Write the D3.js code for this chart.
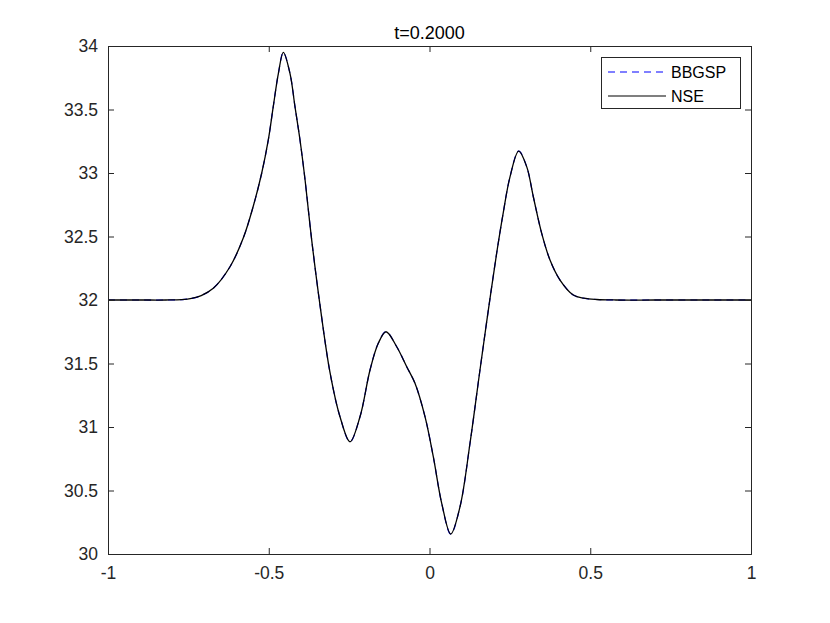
<!DOCTYPE html>
<html>
<head>
<meta charset="utf-8">
<script src="https://cdn.jsdelivr.net/npm/d3@7"></script>
<style>
body{margin:0;background:#fff;}
svg{display:block;font-family:"Liberation Sans",Arial,Helvetica,sans-serif;}
</style>
</head>
<body>
<svg id="chart" width="830" height="623"></svg>
<script>
const titleText = "t=0.2000";
const seriesNames = ["BBGSP", "NSE"];
const xTicks = [-1, -0.5, 0, 0.5, 1];
const yTicks = [30, 30.5, 31, 31.5, 32, 32.5, 33, 33.5, 34];
const xValues = [-1, -0.9, -0.82, -0.77, -0.74, -0.71, -0.6725, -0.6205, -0.579, -0.548, -0.522, -0.5014, -0.486, -0.470, -0.4547,
  -0.434, -0.4184, -0.4028, -0.387, -0.3664, -0.3406, -0.3095, -0.2784, -0.2473, -0.2162, -0.185, -0.1593, -0.1353,
  -0.102, -0.0709, -0.0451, -0.014, 0.0118, 0.038, 0.066, 0.0949, 0.126, 0.157, 0.183, 0.209, 0.2296, 0.2504, 0.2775,
  0.3023, 0.3229, 0.349, 0.3748, 0.406, 0.4473, 0.48, 0.52, 0.58, 0.7, 0.85, 1];
const bbgspValues = [32, 32, 32, 32.003, 32.012, 32.035, 32.092, 32.262, 32.49, 32.74, 32.998, 33.26, 33.522, 33.785, 33.95,
  33.785, 33.522, 33.26, 32.945, 32.472, 31.96, 31.43, 31.081, 30.884, 31.081, 31.449, 31.659, 31.75,
  31.632, 31.475, 31.344, 31.081, 30.766, 30.399, 30.157, 30.372, 30.872, 31.449, 31.92, 32.37, 32.69, 32.97, 33.173,
  33.05, 32.813, 32.525, 32.315, 32.157, 32.039, 32.014, 32.004, 32, 32, 32, 32];
const nseValues = [32, 32, 32, 32.003, 32.012, 32.035, 32.092, 32.262, 32.49, 32.74, 32.998, 33.26, 33.522, 33.785, 33.95,
  33.785, 33.522, 33.26, 32.945, 32.472, 31.96, 31.43, 31.081, 30.884, 31.081, 31.449, 31.659, 31.75,
  31.632, 31.475, 31.344, 31.081, 30.766, 30.399, 30.157, 30.372, 30.872, 31.449, 31.92, 32.37, 32.69, 32.97, 33.173,
  33.05, 32.813, 32.525, 32.315, 32.157, 32.039, 32.014, 32.004, 32, 32, 32, 32];

const svg = d3.select("#chart");
const L = 108, R = 751, T = 46, B = 554;
const x = d3.scaleLinear().domain([-1, 1]).range([L, R]);
const y = d3.scaleLinear().domain([30, 34]).range([B, T]);
const axisColor = "#262626";

// data lines
const line = d3.line().x((d, i) => x(xValues[i])).y(d => y(d)).curve(d3.curveCatmullRom.alpha(0.5));
svg.append("path").datum(bbgspValues).attr("d", line)
  .attr("fill", "none").attr("stroke", "#0000ff").attr("stroke-width", 1.2).attr("stroke-dasharray", "7,5");
svg.append("path").datum(nseValues).attr("d", line)
  .attr("fill", "none").attr("stroke", "#000").attr("stroke-width", 1.3);

// axes
const tl = 6;
const fmt = d => String(d);
const xb = svg.append("g").attr("transform", `translate(0,${B})`)
  .call(d3.axisBottom(x).tickValues(xTicks).tickSize(-tl).tickPadding(14).tickFormat(fmt));
const xt = svg.append("g").attr("transform", `translate(0,${T})`)
  .call(d3.axisTop(x).tickValues(xTicks).tickSize(-tl).tickFormat(""));
const yl = svg.append("g").attr("transform", `translate(${L},0)`)
  .call(d3.axisLeft(y).tickValues(yTicks).tickSize(-tl).tickPadding(10).tickFormat(fmt));
const yr = svg.append("g").attr("transform", `translate(${R},0)`)
  .call(d3.axisRight(y).tickValues(yTicks).tickSize(-tl).tickFormat(""));
[xb, xt, yl, yr].forEach(g => {
  g.select(".domain").attr("stroke", axisColor).attr("stroke-width", 1);
  g.selectAll(".tick line").attr("stroke", axisColor);
  g.selectAll("text").attr("fill", axisColor).style("font-size", "17.5px")
    .style("font-family", '"Liberation Sans",Arial,sans-serif');
});
xb.selectAll("text").attr("dy", "0.62em");

// title
svg.append("text").attr("x", (L + R) / 2).attr("y", 39).attr("text-anchor", "middle")
  .style("font-size", "18px").attr("fill", "#000").text(titleText);

// legend
const lg = svg.append("g");
lg.append("rect").attr("x", 601.5).attr("y", 57.5).attr("width", 139).attr("height", 51)
  .attr("fill", "#fff").attr("stroke", axisColor).attr("stroke-width", 1);
const legStyles = [{c: "#0000ff", dash: "7,5"}, {c: "#000", dash: null}];
seriesNames.forEach((name, i) => {
  const yy = 72 + i * 24;
  const ln = lg.append("line").attr("x1", 608).attr("x2", 666).attr("y1", yy).attr("y2", yy)
    .attr("stroke", legStyles[i].c).attr("stroke-width", 1.2);
  if (legStyles[i].dash) ln.attr("stroke-dasharray", legStyles[i].dash);
  lg.append("text").attr("x", 671).attr("y", yy).attr("dy", "0.35em")
    .style("font-size", "16px").attr("fill", "#000").text(name);
});
</script>
</body>
</html>
